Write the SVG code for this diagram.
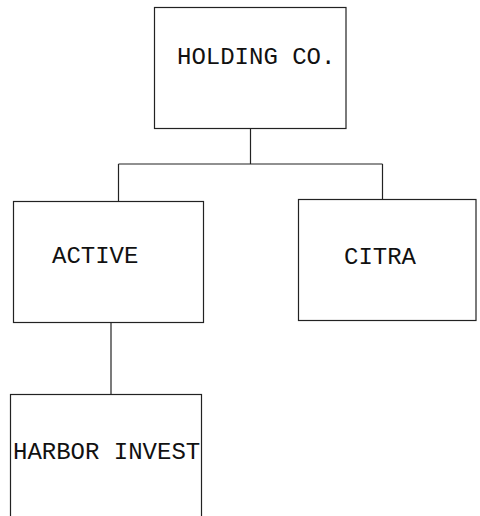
<svg xmlns="http://www.w3.org/2000/svg" width="480" height="516" viewBox="0 0 480 516">
  <style>
    .box { fill: #ffffff; stroke: #222222; stroke-width: 1.2; }
    .link { fill: none; stroke: #222222; stroke-width: 1.2; }
    .label { font-family: "Liberation Mono", "Courier New", monospace; font-size: 24px; fill: #111111; }
  </style>
  <rect width="480" height="516" fill="#ffffff"/>

  <g id="connectors">
    <path class="link" d="M250.5,128.5 V164 M118.5,164 H382.5 M118.5,164 V201.5 M382.5,164 V199.5"/>
    <path class="link" d="M111,322.5 V394.5"/>
  </g>

  <g id="holding-co">
    <rect class="box" x="154.5" y="7.5" width="191.5" height="121"/>
    <text class="label" x="177" y="64">HOLDING CO.</text>
  </g>

  <g id="active">
    <rect class="box" x="13.5" y="201.5" width="190" height="121"/>
    <text class="label" x="52" y="262.5">ACTIVE</text>
  </g>

  <g id="citra">
    <rect class="box" x="298.5" y="199.5" width="177.5" height="121"/>
    <text class="label" x="344" y="264">CITRA</text>
  </g>

  <g id="harbor-invest">
    <rect class="box" x="10.5" y="394.5" width="191" height="130"/>
    <text class="label" x="13" y="459">HARBOR INVEST</text>
  </g>
</svg>
